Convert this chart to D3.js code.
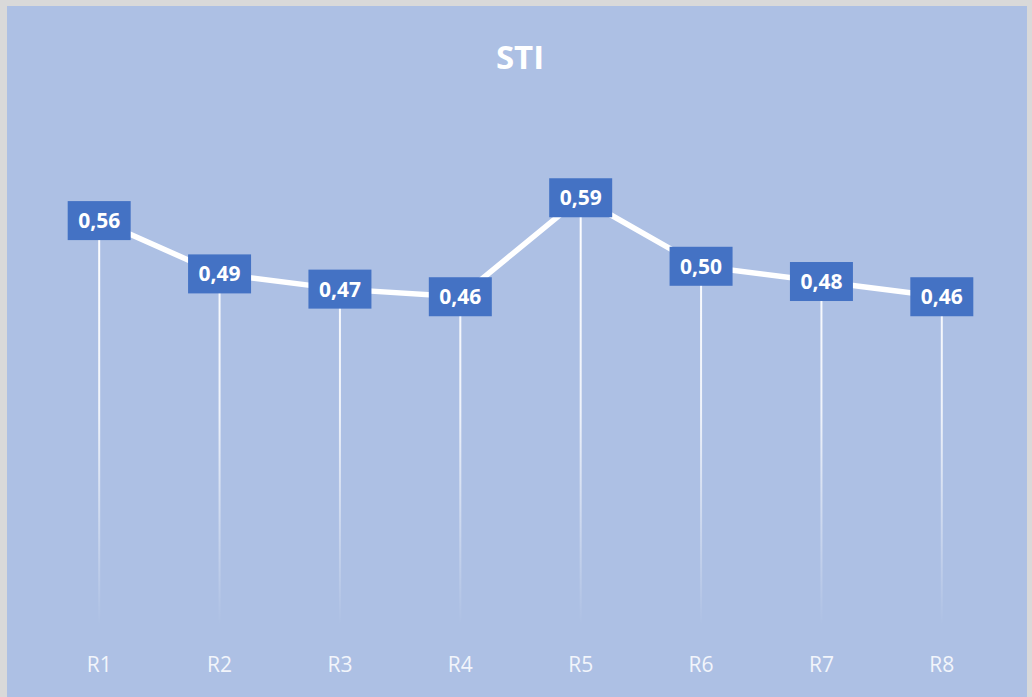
<!DOCTYPE html>
<html>
<head>
<meta charset="utf-8">
<script src="https://cdn.jsdelivr.net/npm/d3@7"></script>
<style>
    html, body { margin: 0; padding: 0; background: #d9d9d9; }
    svg { display: block; }
    text { font-family: "Open Sans", "Noto Sans", sans-serif; }
</style>
</head>
<body>
<svg id="chart"></svg>
<script>
const width = 1032,
    height = 697;

// data
const categories = ["R1", "R2", "R3", "R4", "R5", "R6", "R7", "R8"];
const values = [0.56, 0.49, 0.47, 0.46, 0.59, 0.50, 0.48, 0.46];
const labels = ["0,56", "0,49", "0,47", "0,46", "0,59", "0,50", "0,48", "0,46"];
const title = "STI";

const svg = d3.select("#chart")
    .attr("width", width)
    .attr("height", height);

// chart area (light frame on top/left like the screenshot)
svg.append("rect")
    .attr("x", 7).attr("y", 6)
    .attr("width", width - 12).attr("height", height - 6)
    .attr("fill", "#adc0e4");

const x = d3.scaleBand()
    .domain(categories)
    .range([39, 1002])
    .padding(0);

const y = d3.scaleLinear()
    .domain([0, 0.7])
    .range([647, 114]);

const cx = d => x(d) + x.bandwidth() / 2;

const defs = svg.append("defs");
const grad = defs.append("linearGradient")
    .attr("id", "drop-fade")
    .attr("gradientUnits", "userSpaceOnUse")
    .attr("x1", 0).attr("x2", 0)
    .attr("y1", 200).attr("y2", 625);
grad.append("stop").attr("offset", 0).attr("stop-color", "#fff").attr("stop-opacity", 1);
grad.append("stop").attr("offset", 0.5).attr("stop-color", "#fff").attr("stop-opacity", 0.8);
grad.append("stop").attr("offset", 1).attr("stop-color", "#fff").attr("stop-opacity", 0);

svg.append("text")
    .attr("x", 520)
    .attr("y", 69)
    .attr("text-anchor", "middle")
    .attr("fill", "#fff")
    .attr("font-size", 33)
    .attr("font-weight", "bold")
    .text(title);

// drop lines
svg.append("g")
    .selectAll("line")
    .data(values)
    .enter().append("line")
    .attr("x1", (d, i) => cx(categories[i]))
    .attr("x2", (d, i) => cx(categories[i]))
    .attr("y1", d => y(d))
    .attr("y2", 625)
    .attr("stroke", "url(#drop-fade)")
    .attr("stroke-width", 2);

// line
const line = d3.line()
    .x((d, i) => cx(categories[i]))
    .y(d => y(d));

svg.append("path")
    .datum(values)
    .attr("d", line)
    .attr("fill", "none")
    .attr("stroke", "#fff")
    .attr("stroke-width", 5.5)
    .attr("stroke-linejoin", "round");

// label boxes
const boxW = 63, boxH = 39;
const marks = svg.append("g")
    .selectAll("g")
    .data(values)
    .enter().append("g")
    .attr("transform", (d, i) => "translate(" + cx(categories[i]) + "," + y(d) + ")");

marks.append("rect")
    .attr("x", -boxW / 2)
    .attr("y", -boxH / 2)
    .attr("width", boxW)
    .attr("height", boxH)
    .attr("fill", "#4472c4");

marks.append("text")
    .attr("y", 7.5)
    .attr("text-anchor", "middle")
    .attr("fill", "#fff")
    .attr("font-size", 21)
    .attr("font-weight", "bold")
    .text((d, i) => labels[i]);

// category labels
const xAxis = svg.append("g")
    .attr("transform", "translate(0,647)")
    .call(d3.axisBottom(x).tickSize(0).tickPadding(0));
xAxis.select(".domain").remove();
xAxis.selectAll("text")
    .attr("dy", 25)
    .attr("fill", "#f2f5fb")
    .style("font-size", "21px")
    .style("font-family", "\"Open Sans\", sans-serif");
</script>
</body>
</html>
